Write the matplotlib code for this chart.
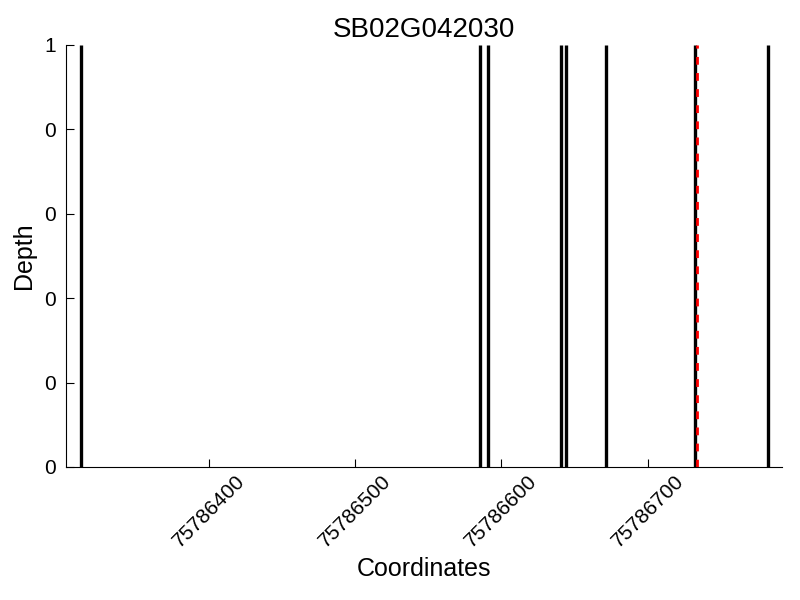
import matplotlib
matplotlib.use("Agg")
import matplotlib.pyplot as plt
from matplotlib.ticker import FormatStrFormatter

plt.rcParams['font.family'] = ['Liberation Sans', 'DejaVu Sans']

title = "SB02G042030"
positions = [75786312, 75786585.5, 75786591, 75786640.5, 75786644.5, 75786671.5, 75786732.5, 75786782.5]
depths = [1, 1, 1, 1, 1, 1, 1, 1]
marker_pos = 75786734
xticks = [75786400, 75786500, 75786600, 75786700]
yticks = [0, 0.2, 0.4, 0.6, 0.8, 1.0]

fig = plt.figure(figsize=(8, 6), dpi=100)
ax = fig.add_axes([0.0825, 0.2217, 0.895, 0.7033])

ax.vlines(positions, 0, depths, colors='black', linewidth=2.4)
ax.axvline(marker_pos, color='red', linewidth=2, linestyle=(0, (2.8, 3.0)))

ax.set_xlim(75786302, 75786792)
ax.set_ylim(0, 1)
ax.set_xticks(xticks)
ax.set_xticklabels([str(v) for v in xticks], rotation=45, fontsize=15)
ax.set_yticks(yticks)
ax.yaxis.set_major_formatter(FormatStrFormatter('%d'))
ax.tick_params(axis='y', labelsize=15, pad=7)
ax.tick_params(direction='in', length=6, width=0.8)
for s in ['top', 'right']:
    ax.spines[s].set_visible(False)

ax.set_title(title, fontsize=20)
ax.set_xlabel("Coordinates", fontsize=18)
ax.set_ylabel("Depth", fontsize=18, labelpad=6)

fig.savefig("out.png", dpi=100)
